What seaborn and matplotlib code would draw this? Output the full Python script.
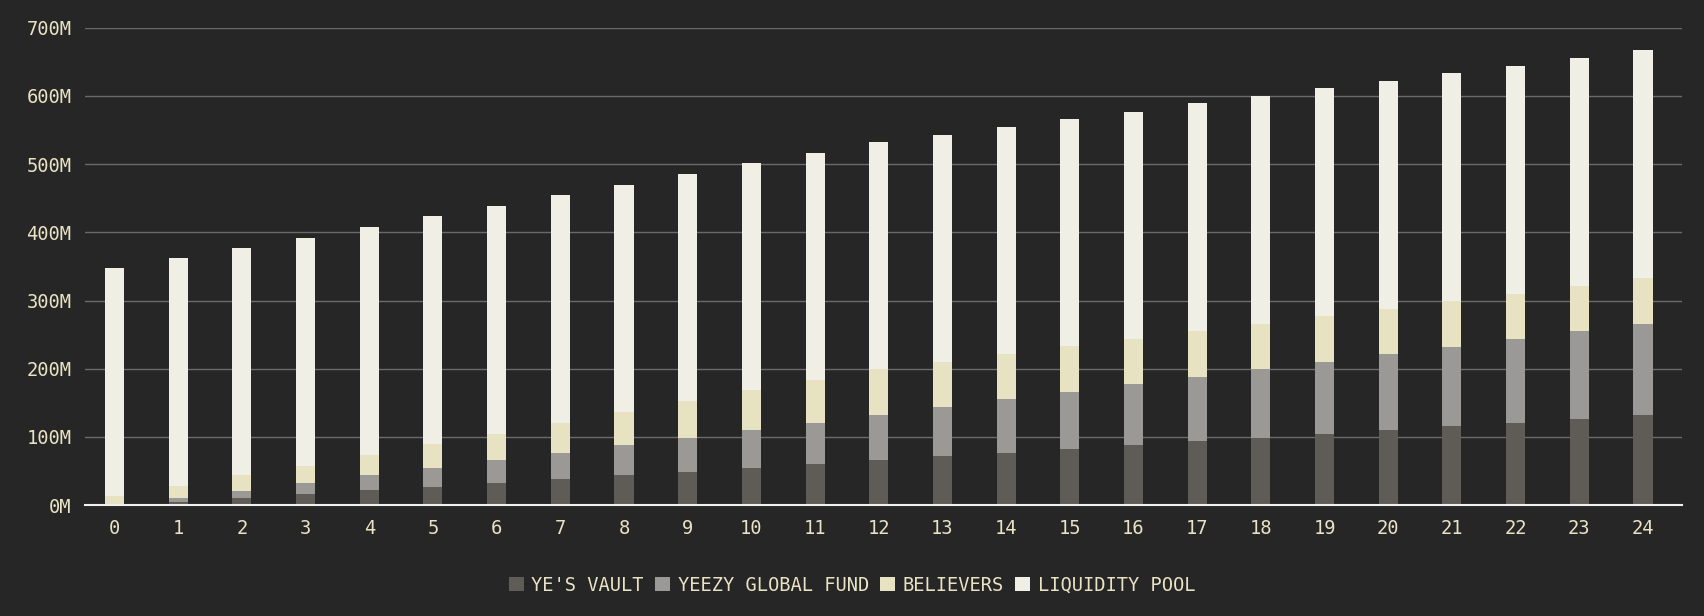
import matplotlib
matplotlib.use("Agg")
import matplotlib.pyplot as plt
import seaborn as sns
import numpy as np
import pandas as pd
from matplotlib.ticker import FuncFormatter
from matplotlib.patches import Patch

months = list(range(25))
vault = [0,5,10,16,22,27,33,38,44,49,55,60,66,72,77,82,88,94,99,104,110,116,121,127,132]
fund = [0,5,11,16,22,28,33,39,44,50,55,61,66,72,78,84,89,94,100,106,111,116,122,128,133]
believers = [13,18,23,26,30,35,39,44,49,54,59,63,68,66,66,67,67,67,66,67,67,68,67,67,68]
liquidity = [334,334,333,334,334,334,334,334,333,333,333,333,333,333,334,333,333,334,335,334,334,333,334,333,334]
series_names = ["YE'S VAULT", "YEEZY GLOBAL FUND", "BELIEVERS", "LIQUIDITY POOL"]
colors = ["#5f5b57", "#9a9995", "#e6e2c2", "#efefe6"]

bg = "#262626"
txt = "#e9e2c4"
plt.rcParams["font.family"] = "DejaVu Sans Mono"
fig = plt.figure(figsize=(17.04, 6.16), dpi=100, facecolor=bg)
ax = fig.add_axes([0.05, 0.18, 0.937, 0.775])
ax.set_facecolor(bg)

df = pd.DataFrame({"m": months})
bottom = np.zeros(len(months))
for name, vals, c in zip(series_names, [vault, fund, believers, liquidity], colors):
    v = np.array(vals, dtype=float)
    sns.barplot(x=df["m"], y=v, bottom=bottom, color=c, width=0.3, ax=ax,
                saturation=1, linewidth=0)
    bottom += v

ax.set_ylim(0, 700)
ax.set_yticks(range(0, 701, 100))
ax.yaxis.set_major_formatter(FuncFormatter(lambda v, p: f"{int(v)}M"))
ax.grid(axis="y", color="#6a6a6a", linewidth=1)
ax.set_axisbelow(True)
for s in ["top", "right", "left"]:
    ax.spines[s].set_visible(False)
ax.spines["bottom"].set_color("#f0f0f0")
ax.spines["bottom"].set_linewidth(1.5)
ax.tick_params(colors=txt, labelsize=13.5, length=0, pad=10)
ax.set_xlabel(""); ax.set_ylabel("")
ax.set_xlim(-0.46, 24.61)

handles = [Patch(facecolor=c, label=n) for n, c in zip(series_names, colors)]
fig.legend(handles=handles, loc="center", bbox_to_anchor=(0.5, 0.05), ncol=4,
           frameon=False, fontsize=13.5, labelcolor=txt, handlelength=0.8,
           handleheight=0.8, handletextpad=0.4, columnspacing=0.6)
fig.savefig("out.png", dpi=100, facecolor=bg)
